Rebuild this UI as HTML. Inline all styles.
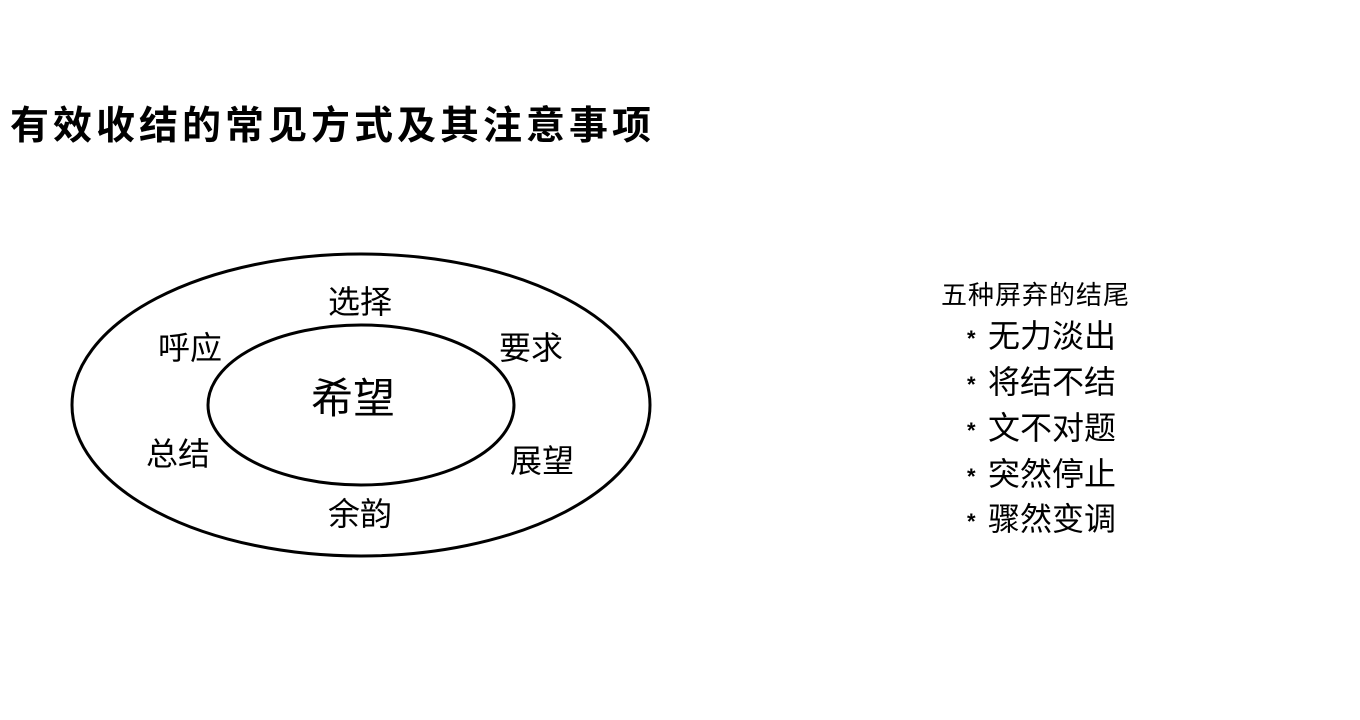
<!DOCTYPE html>
<html><head><meta charset="utf-8"><style>
body{margin:0;width:1360px;height:720px;background:#fff;overflow:hidden;position:relative;font-family:"Liberation Sans","Noto Sans CJK SC",sans-serif;color:#000}
.t{position:absolute;white-space:nowrap;line-height:1}
.b{position:absolute;left:967px;font-size:22px;font-weight:bold;line-height:1}
.i{position:absolute;left:988px;font-size:32px;line-height:1;white-space:nowrap}
</style></head><body>
<div class="t" style="left:10px;top:107px;font-size:39px;font-weight:bold;letter-spacing:4px">有效收结的常见方式及其注意事项</div>
<svg width="1360" height="720" style="position:absolute;left:0;top:0">
<ellipse cx="361" cy="405" rx="289" ry="151" fill="none" stroke="#000" stroke-width="3"/>
<ellipse cx="361" cy="405" rx="153" ry="80" fill="none" stroke="#000" stroke-width="3"/>
</svg>
<div class="t" style="left:328px;top:286px;font-size:32px">选择</div>
<div class="t" style="left:158px;top:332px;font-size:32px">呼应</div>
<div class="t" style="left:499px;top:332px;font-size:32px">要求</div>
<div class="t" style="left:311px;top:378px;font-size:42px">希望</div>
<div class="t" style="left:146px;top:438px;font-size:32px">总结</div>
<div class="t" style="left:510px;top:445px;font-size:32px">展望</div>
<div class="t" style="left:328px;top:498px;font-size:32px">余韵</div>
<div class="t" style="left:941px;top:282px;font-size:26px;letter-spacing:1px">五种屏弃的结尾</div>
<div class="b" style="top:328px">*</div><div class="i" style="top:320px">无力淡出</div>
<div class="b" style="top:374px">*</div><div class="i" style="top:366px">将结不结</div>
<div class="b" style="top:420px">*</div><div class="i" style="top:412px">文不对题</div>
<div class="b" style="top:466px">*</div><div class="i" style="top:458px">突然停止</div>
<div class="b" style="top:511px">*</div><div class="i" style="top:503px">骤然变调</div>
</body></html>
